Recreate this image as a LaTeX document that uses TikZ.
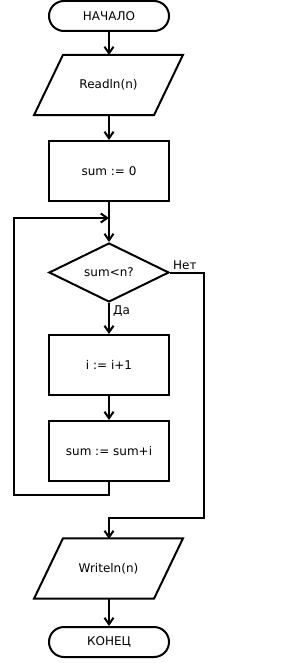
\documentclass[tikz,border=0pt]{standalone}
\usepackage{fontspec}
\setmainfont{DejaVu Sans}
\usetikzlibrary{arrows.meta,shapes.geometric,shapes.misc}
\begin{document}
\begin{tikzpicture}[x=1pt,y=-1pt,
  every node/.style={font=\fontsize{12}{14}\selectfont},
  blk/.style={draw,line width=2pt,minimum width=120pt,minimum height=60pt,inner sep=0pt},
  term/.style={draw,line width=2pt,rounded rectangle,minimum width=120pt,minimum height=30pt,inner sep=0pt},
  io/.style={minimum width=120pt,minimum height=60pt,inner sep=0pt},
  para/.style={draw,line width=2pt,line join=miter},
  dec/.style={draw,line width=2pt,diamond,aspect=2.03,minimum width=120pt,minimum height=59pt,inner sep=0pt},
  conn/.style={line width=2pt},
  arr/.style={conn,-{Straight Barb[length=6.5pt,width=9pt]}},
  lbl/.style={inner sep=0pt}]
\useasboundingbox (0,0) rectangle (281,663);
\node[term] (start) at (109,16) {НАЧАЛО};
\node[io] (read) at (108.5,85) {Readln(n)};
\draw[para] ([xshift=-45.5pt]read.north) -- ([xshift=74.5pt]read.north) -- ([xshift=45.5pt]read.south) -- ([xshift=-74.5pt]read.south) -- cycle;
\node[blk] (s0) at (109,171) {sum := 0};
\node[dec] (cond) at (109,272.5) {sum<n?};
\node[blk] (inc) at (109,365) {i := i+1};
\node[blk] (add) at (109,451) {sum := sum+i};
\node[io] (write) at (108.5,568.5) {Writeln(n)};
\draw[para] ([xshift=-45.5pt]write.north) -- ([xshift=74.5pt]write.north) -- ([xshift=45.5pt]write.south) -- ([xshift=-74.5pt]write.south) -- cycle;
\node[term] (stop) at (109,642) {КОНЕЦ};
\coordinate (join) at (109,218);
\coordinate (lb) at (109,495);
\coordinate (ll) at (14,495);
\coordinate (lt) at (14,218);
\coordinate (nr) at (204,272.5);
\coordinate (nb) at (204,518);
\coordinate (nm) at (109,518);
\node[lbl,anchor=west] (da) at (113,311) {Да};
\node[lbl,anchor=south west] (net) at (173,270) {Нет};
\draw[arr] (start) -- (109,55);
\draw[arr] (109,115) -- (s0);
\draw[arr] (s0) -- (cond);
\draw[arr] (cond) -- (inc);
\draw[arr] (inc) -- (add);
\draw[arr] (add.south) -- (lb) -- (ll) -- (lt) -- (join);
\draw[arr] (cond.east) -- (nr) -- (nb) -- (nm) -- (109,539);
\draw[arr] (109,598) -- (stop);
\end{tikzpicture}
\end{document}
